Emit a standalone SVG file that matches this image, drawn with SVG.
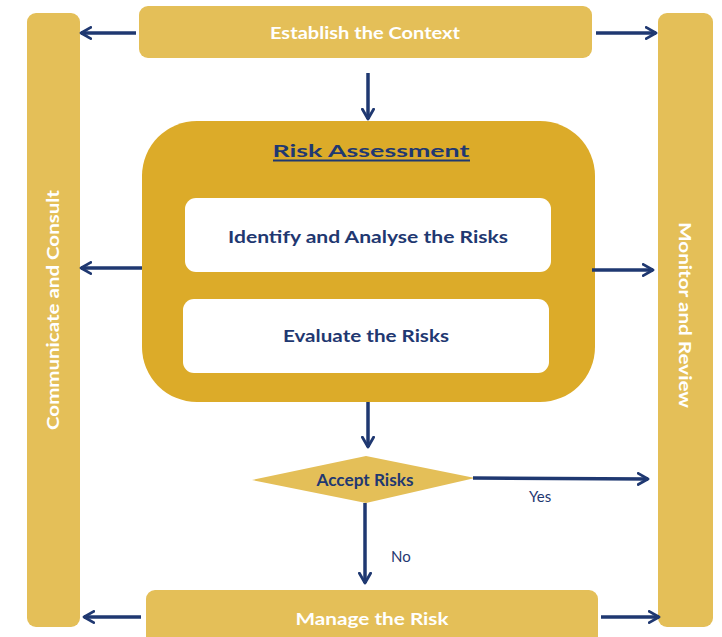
<svg xmlns="http://www.w3.org/2000/svg" width="722" height="637" viewBox="0 0 722 637">
<defs>
<style>
.bar{fill:#E4BF58}
.core{fill:#DCAB29}
.inner{fill:#FFFFFF}
.wt{fill:#FFFFFF;font-family:Lato,"Noto Sans",sans-serif;font-weight:bold;font-size:17px;text-anchor:middle}
.nt{fill:#1F3871;font-family:Lato,"Noto Sans",sans-serif;font-weight:bold;font-size:17px;text-anchor:middle}
.lbl{fill:#1F3871;font-family:Lato,"Noto Sans",sans-serif;font-size:15px}
.cn{stroke:#1F3871;stroke-width:3.5;fill:none;marker-end:url(#ah)}
</style>
<marker id="ah" viewBox="0 0 10 10" refX="8" refY="5" markerWidth="4" markerHeight="4" orient="auto" markerUnits="strokeWidth">
<path d="M1,1 L8,5 L1,9" fill="none" stroke="#1F3871" stroke-width="2" stroke-linecap="round" stroke-linejoin="round"/>
</marker>
</defs>
<rect width="722" height="637" fill="#FFFFFF"/>
<g id="communicate">
<rect class="bar" x="27" y="13" width="53" height="614" rx="9"/>
<text class="wt" transform="translate(59,310) rotate(-90)" textLength="240" lengthAdjust="spacingAndGlyphs">Communicate and Consult</text>
</g>
<g id="monitor">
<rect class="bar" x="658" y="13" width="55" height="614" rx="9"/>
<text class="wt" transform="translate(679,315) rotate(90)" textLength="186" lengthAdjust="spacingAndGlyphs">Monitor and Review</text>
</g>
<g id="establish">
<rect class="bar" x="139" y="6" width="453" height="52" rx="9"/>
<text class="wt" x="365" y="39" textLength="190" lengthAdjust="spacingAndGlyphs">Establish the Context</text>
</g>
<g id="assessment">
<rect class="core" x="142" y="121" width="453" height="281" rx="55"/>
<text class="nt" x="371" y="157" font-size="24" textLength="197" lengthAdjust="spacingAndGlyphs">Risk Assessment</text>
<line x1="273" y1="160.5" x2="470" y2="160.5" stroke="#1F3871" stroke-width="2"/>
</g>
<g id="identify">
<rect class="inner" x="185" y="198" width="366" height="74" rx="11"/>
<text class="nt" x="368" y="243" textLength="280" lengthAdjust="spacingAndGlyphs">Identify and Analyse the Risks</text>
</g>
<g id="evaluate">
<rect class="inner" x="183" y="299" width="366" height="74" rx="11"/>
<text class="nt" x="366" y="342" textLength="166" lengthAdjust="spacingAndGlyphs">Evaluate the Risks</text>
</g>
<g id="accept">
<polygon class="bar" points="252,480 366,456 475,478 366,503"/>
<text class="nt" x="365" y="486" font-size="14" textLength="97" lengthAdjust="spacingAndGlyphs">Accept Risks</text>
</g>
<g id="manage">
<rect class="bar" x="146" y="590" width="452" height="60" rx="9"/>
<text class="wt" x="372" y="625" textLength="153" lengthAdjust="spacingAndGlyphs">Manage the Risk</text>
</g>
<g id="connectors">
<line class="cn" x1="136" y1="33" x2="81" y2="33"/>
<line class="cn" x1="596" y1="33" x2="656" y2="33"/>
<line class="cn" x1="368" y1="73" x2="368" y2="119"/>
<line class="cn" x1="142" y1="268" x2="81" y2="268"/>
<line class="cn" x1="592" y1="270" x2="653" y2="270"/>
<line class="cn" x1="368" y1="402" x2="368" y2="447"/>
<line class="cn" x1="473" y1="478" x2="648" y2="479"/>
<line class="cn" x1="365" y1="503" x2="365" y2="583"/>
<line class="cn" x1="141" y1="617" x2="84" y2="617"/>
<line class="cn" x1="601" y1="617" x2="659" y2="617"/>
<text class="lbl" x="529" y="502">Yes</text>
<text class="lbl" x="391" y="562">No</text>
</g>
</svg>
